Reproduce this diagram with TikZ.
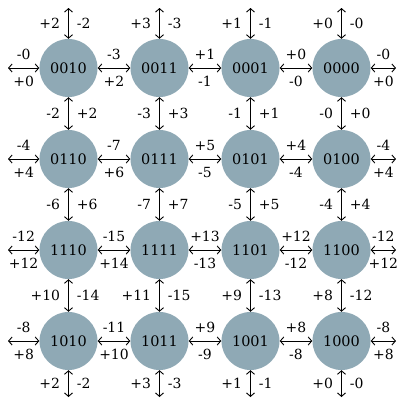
\documentclass[tikz,border=0pt]{standalone}
\usepackage{fontspec}
\setmainfont{DejaVu Serif}
\usepackage{xcolor}
\usetikzlibrary{arrows.meta}
\definecolor{statefill}{HTML}{8FA9B5}

\begin{document}
\begin{tikzpicture}[x=1bp,y=-1bp,
  state/.style={circle,fill=statefill,minimum size=58bp,inner sep=0pt,
    font=\fontsize{14.5}{16}\selectfont},
  link/.style={{Straight Barb[length=3.5bp,width=8bp]}-{Straight Barb[length=3.5bp,width=8bp]},
    line width=0.9bp},
  lab/.style={font=\fontsize{14}{16}\selectfont,inner sep=0pt},
  abv/.style={lab,yshift=13.5bp},
  blw/.style={lab,yshift=-13.5bp},
  lft/.style={lab,anchor=east,xshift=-8bp},
  rgt/.style={lab,anchor=west,xshift=8bp}
  ]
\useasboundingbox (0,0) rectangle (401,403);

% States, row by row
\node[state] (n0010) at (68.5,68)  {0010};
\node[state] (n0011) at (159.5,68) {0011};
\node[state] (n0001) at (250.5,68) {0001};
\node[state] (n0000) at (341.5,68) {0000};

\node[state] (n0110) at (68.5,159)  {0110};
\node[state] (n0111) at (159.5,159) {0111};
\node[state] (n0101) at (250.5,159) {0101};
\node[state] (n0100) at (341.5,159) {0100};

\node[state] (n1110) at (68.5,250)  {1110};
\node[state] (n1111) at (159.5,250) {1111};
\node[state] (n1101) at (250.5,250) {1101};
\node[state] (n1100) at (341.5,250) {1100};

\node[state] (n1010) at (68.5,341)  {1010};
\node[state] (n1011) at (159.5,341) {1011};
\node[state] (n1001) at (250.5,341) {1001};
\node[state] (n1000) at (341.5,341) {1000};

% Free ends on the border
\foreach \c/\x in {1/68.5,2/159.5,3/250.5,4/341.5} {
  \coordinate (top\c) at (\x,8);
  \coordinate (bot\c) at (\x,397);
}
\foreach \r/\y in {1/68,2/159,3/250,4/341} {
  \coordinate (lt\r) at (8,\y);
  \coordinate (rt\r) at (396,\y);
}

% Top edge
\draw[link] (top1) -- node[lft] {+2} node[rgt] {-2} (n0010);
\draw[link] (top2) -- node[lft] {+3} node[rgt] {-3} (n0011);
\draw[link] (top3) -- node[lft] {+1} node[rgt] {-1} (n0001);
\draw[link] (top4) -- node[lft] {+0} node[rgt] {-0} (n0000);

% Row 1
\draw[link] (lt1) -- node[abv] {-0} node[blw] {+0} (n0010);
\draw[link] (n0010) -- node[abv] {-3} node[blw] {+2} (n0011);
\draw[link] (n0011) -- node[abv] {+1} node[blw] {-1} (n0001);
\draw[link] (n0001) -- node[abv] {+0} node[blw] {-0} (n0000);
\draw[link] (n0000) -- node[abv] {-0} node[blw] {+0} (rt1);

\draw[link] (n0010) -- node[lft] {-2} node[rgt] {+2} (n0110);
\draw[link] (n0011) -- node[lft] {-3} node[rgt] {+3} (n0111);
\draw[link] (n0001) -- node[lft] {-1} node[rgt] {+1} (n0101);
\draw[link] (n0000) -- node[lft] {-0} node[rgt] {+0} (n0100);

% Row 2
\draw[link] (lt2) -- node[abv] {-4} node[blw] {+4} (n0110);
\draw[link] (n0110) -- node[abv] {-7} node[blw] {+6} (n0111);
\draw[link] (n0111) -- node[abv] {+5} node[blw] {-5} (n0101);
\draw[link] (n0101) -- node[abv] {+4} node[blw] {-4} (n0100);
\draw[link] (n0100) -- node[abv] {-4} node[blw] {+4} (rt2);

\draw[link] (n0110) -- node[lft] {-6} node[rgt] {+6} (n1110);
\draw[link] (n0111) -- node[lft] {-7} node[rgt] {+7} (n1111);
\draw[link] (n0101) -- node[lft] {-5} node[rgt] {+5} (n1101);
\draw[link] (n0100) -- node[lft] {-4} node[rgt] {+4} (n1100);

% Row 3
\draw[link] (lt3) -- node[abv] {-12} node[blw] {+12} (n1110);
\draw[link] (n1110) -- node[abv] {-15} node[blw] {+14} (n1111);
\draw[link] (n1111) -- node[abv] {+13} node[blw] {-13} (n1101);
\draw[link] (n1101) -- node[abv] {+12} node[blw] {-12} (n1100);
\draw[link] (n1100) -- node[abv] {-12} node[blw] {+12} (rt3);

\draw[link] (n1110) -- node[lft] {+10} node[rgt] {-14} (n1010);
\draw[link] (n1111) -- node[lft] {+11} node[rgt] {-15} (n1011);
\draw[link] (n1101) -- node[lft] {+9} node[rgt] {-13} (n1001);
\draw[link] (n1100) -- node[lft] {+8} node[rgt] {-12} (n1000);

% Row 4
\draw[link] (lt4) -- node[abv] {-8} node[blw] {+8} (n1010);
\draw[link] (n1010) -- node[abv] {-11} node[blw] {+10} (n1011);
\draw[link] (n1011) -- node[abv] {+9} node[blw] {-9} (n1001);
\draw[link] (n1001) -- node[abv] {+8} node[blw] {-8} (n1000);
\draw[link] (n1000) -- node[abv] {-8} node[blw] {+8} (rt4);

% Bottom edge
\draw[link] (n1010) -- node[lft] {+2} node[rgt] {-2} (bot1);
\draw[link] (n1011) -- node[lft] {+3} node[rgt] {-3} (bot2);
\draw[link] (n1001) -- node[lft] {+1} node[rgt] {-1} (bot3);
\draw[link] (n1000) -- node[lft] {+0} node[rgt] {-0} (bot4);

\end{tikzpicture}
\end{document}
